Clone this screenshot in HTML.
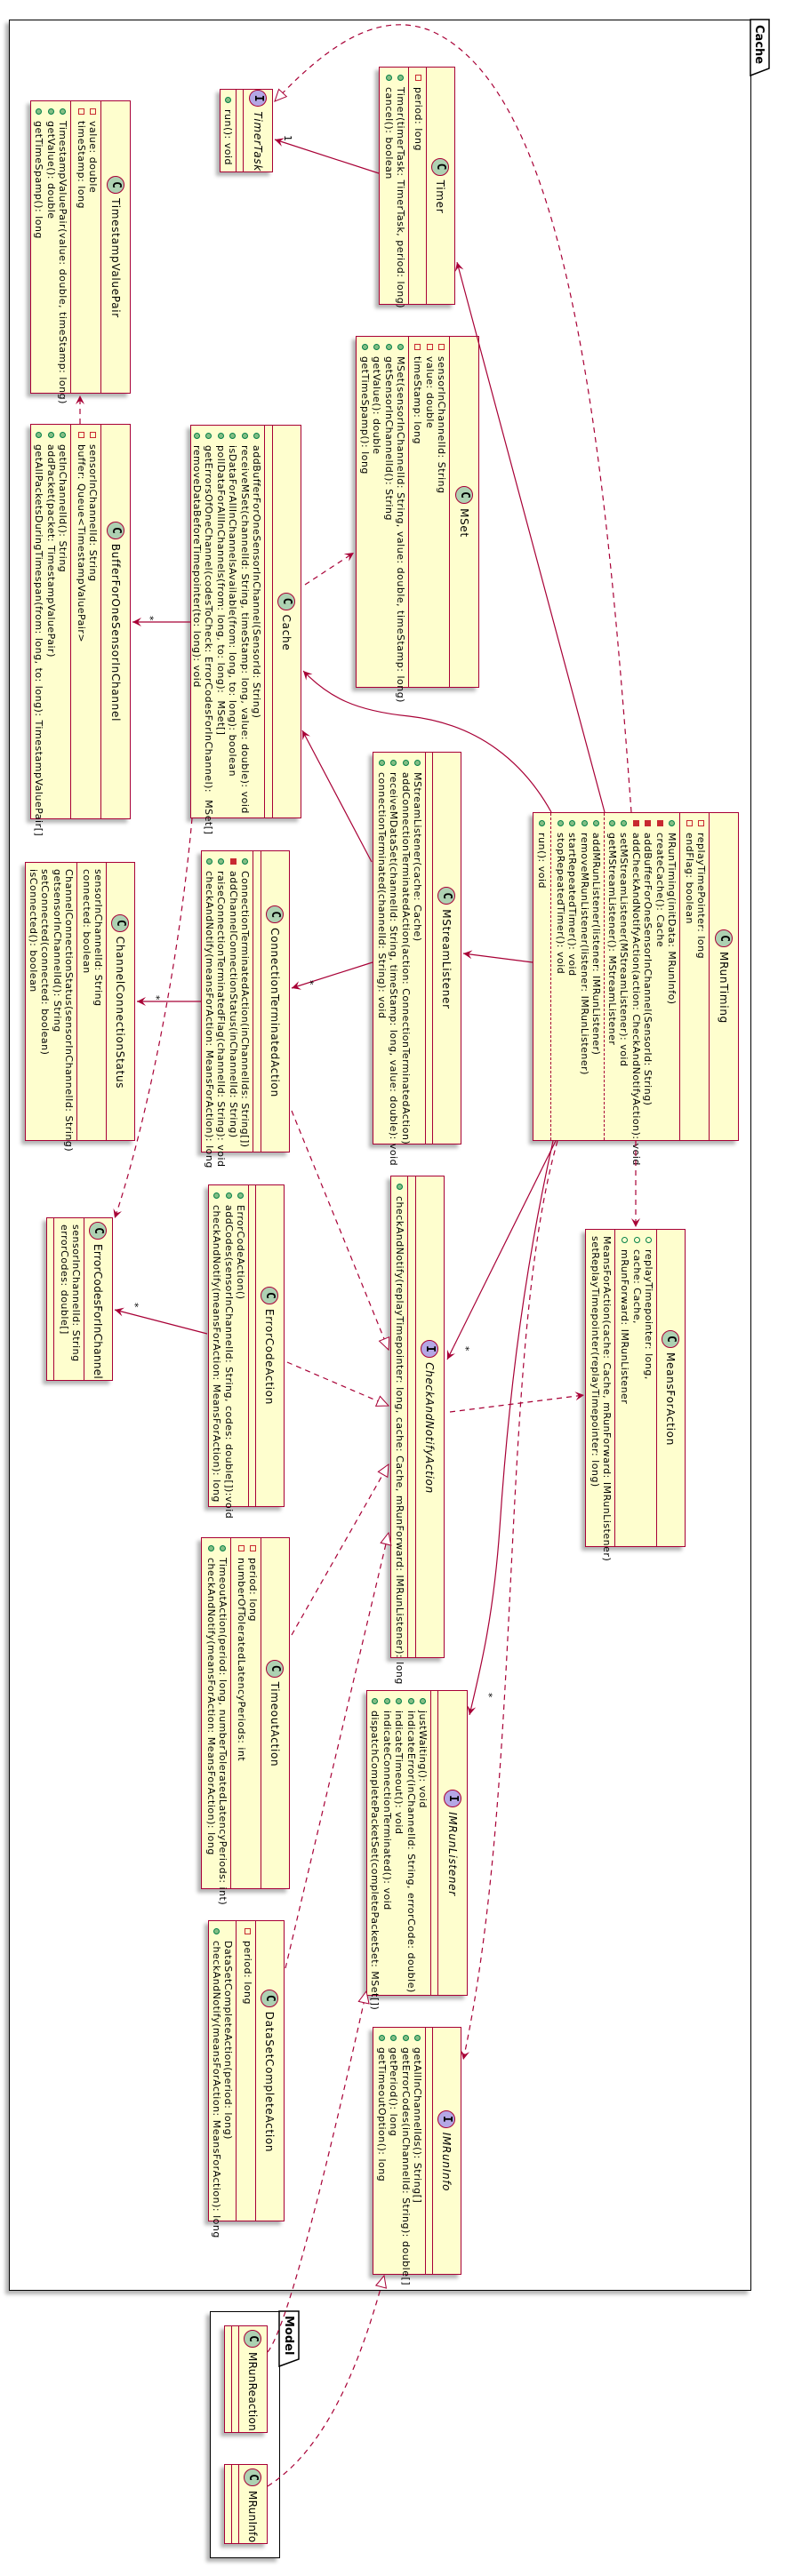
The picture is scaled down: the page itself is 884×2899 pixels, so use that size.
<!DOCTYPE html>
<html><head><meta charset="utf-8">
<style>
html,body{margin:0;padding:0;background:#fff;}
body{width:884px;height:2899px;position:relative;overflow:hidden;font-family:"DejaVu Sans","Liberation Sans",sans-serif;}
.fr{position:absolute;border:1.5px solid #000;box-sizing:border-box;box-shadow:-4px 4px 4px rgba(0,0,0,.3);background:#fff}
.b{position:absolute;transform:rotate(90deg);transform-origin:0 0;background:#FEFECE;border:1.5px solid #A80036;box-sizing:border-box;display:flex;flex-direction:column;box-shadow:4px 4px 4px rgba(0,0,0,.3);color:#000}
.h{display:flex;align-items:center;justify-content:center;border-bottom:1.5px solid #A80036;box-sizing:border-box;flex:none;font-size:12px;letter-spacing:0.7px;white-space:nowrap}
.h.l{justify-content:flex-start;padding-left:6px}
.f{border-bottom:1.5px solid #A80036;box-sizing:border-box;flex:none;padding-top:2px;overflow:visible}
.m{flex:1;padding-top:2px;overflow:visible}
.c{display:inline-block;width:20px;height:20px;border-radius:50%;background:#ADD1B2;border:1px solid #A80036;box-sizing:border-box;text-align:center;line-height:18px;font-weight:bold;font-size:13px;letter-spacing:0;margin-right:5px;font-family:"DejaVu Sans Mono","Liberation Mono",monospace}
.c.i{background:#B4A7E5}
.ln{position:relative;height:13.4px;line-height:13.4px;padding-left:22px;white-space:nowrap;font-size:11px;letter-spacing:0.5px}
.ln.n{padding-left:7px}
.ic{position:absolute;left:8px;top:3px;width:7px;height:7px;box-sizing:border-box}
.g{border-radius:50%;background:#84BE84;border:1px solid #038048}
.go{border-radius:50%;border:1px solid #038048}
.r{border:1px solid #C82930}
.rf{background:#C82930;border:1px solid #C82930}
.it{font-style:italic}
.sep{border-bottom:1px dashed #A80036;box-sizing:border-box;padding-top:2px}
svg{position:absolute;left:0;top:0}
</style></head><body>

<div class="fr" style="left:10px;top:22px;width:835px;height:2556px"></div>
<div class="fr" style="left:236px;top:2601px;width:79px;height:278px"></div>

<svg width="884" height="2899" style="z-index:0">
<polygon points="844,22 865,22 865,77 844,85" fill="#fff" stroke="#000" stroke-width="1.5"/>
<text x="850" y="28" transform="rotate(90 850 28)" font-family="DejaVu Sans,Liberation Sans,sans-serif" font-size="13" font-weight="bold">Cache</text>
<polygon points="314,2601 336,2601 336,2655 314,2663" fill="#fff" stroke="#000" stroke-width="1.5"/>
<text x="321" y="2606" transform="rotate(90 321 2606)" font-family="DejaVu Sans,Liberation Sans,sans-serif" font-size="13" font-weight="bold">Model</text>
</svg>

<div class="b" style="left:307px;top:100px;width:94px;height:60px">
<div class="h" style="height:33px"><span class="c i">I</span><span class="it">TimerTask</span></div>
<div class="f" style="height:8px"></div>
<div class="m"><div class="ln"><span class="ic g"></span>run(): void</div></div>
</div>

<div class="b" style="left:512px;top:75px;width:268px;height:86px">
<div class="h" style="height:32px"><span class="c">C</span>Timer</div>
<div class="f" style="height:20px"><div class="ln"><span class="ic r"></span>period: long</div></div>
<div class="m"><div class="ln"><span class="ic g"></span>Timer(timerTask: TimerTask, period: long)</div><div class="ln"><span class="ic g"></span>cancel(): boolean</div></div>
</div>

<div class="b" style="left:147px;top:113px;width:330px;height:113px">
<div class="h" style="height:33px"><span class="c">C</span>TimestampValuePair</div>
<div class="f" style="height:34px"><div class="ln"><span class="ic r"></span>value: double</div><div class="ln"><span class="ic r"></span>timeStamp: long</div></div>
<div class="m"><div class="ln"><span class="ic g"></span>TimestampValuePair(value: double, timeStamp: long)</div><div class="ln"><span class="ic g"></span>getValue(): double</div><div class="ln"><span class="ic g"></span>getTimeSpamp(): long</div></div>
</div>

<div class="b" style="left:539px;top:378px;width:396px;height:139px">
<div class="h" style="height:33px"><span class="c">C</span>MSet</div>
<div class="f" style="height:46px"><div class="ln"><span class="ic r"></span>sensorInChannelId: String</div><div class="ln"><span class="ic r"></span>value: double</div><div class="ln"><span class="ic r"></span>timeStamp: long</div></div>
<div class="m"><div class="ln"><span class="ic g"></span>MSet(sensorInChannelId: String, value: double, timeStamp: long)</div><div class="ln"><span class="ic g"></span>getSensorInChannelId(): String</div><div class="ln"><span class="ic g"></span>getValue(): double</div><div class="ln"><span class="ic g"></span>getTimeSpamp(): long</div></div>
</div>

<div class="b" style="left:147px;top:477px;width:445px;height:113px">
<div class="h" style="height:33px"><span class="c">C</span>BufferForOneSensorInChannel</div>
<div class="f" style="height:34px"><div class="ln"><span class="ic r"></span>sensorInChannelId: String</div><div class="ln"><span class="ic r"></span>buffer: Queue&lt;TimestampValuePair&gt;</div></div>
<div class="m"><div class="ln"><span class="ic g"></span>getInChannelId(): String</div><div class="ln"><span class="ic g"></span>addPacket(packet: TimestampValuePair)</div><div class="ln"><span class="ic g"></span>getAllPacketsDuringTimespan(from: long, to: long): TimestampValuePair[]</div></div>
</div>

<div class="b" style="left:339px;top:478px;width:443px;height:125px">
<div class="h" style="height:32px"><span class="c">C</span>Cache</div>
<div class="f" style="height:9px"></div>
<div class="m"><div class="ln"><span class="ic g"></span>addBufferForOneSensorInChannel(SensorId: String)</div><div class="ln"><span class="ic g"></span>receiveMSet(channelId: String, timeStamp: long, value: double): void</div><div class="ln"><span class="ic g"></span>isDataForAllInChannelsAvailable(from: long, to: long): boolean</div><div class="ln"><span class="ic g"></span>pollDataForAllInChannels(from: long, to: long):&nbsp; MSet[]</div><div class="ln"><span class="ic g"></span>getErrorsOfOneChannel(codesToCheck: ErrorCodesForInChannel):&nbsp; MSet[]</div><div class="ln"><span class="ic g"></span>removeDataBeforeTimepointer(to: long): void</div></div>
</div>

<div class="b" style="left:519px;top:846px;width:442px;height:100px">
<div class="h" style="height:32px"><span class="c">C</span>MStreamListener</div>
<div class="f" style="height:8px"></div>
<div class="m"><div class="ln"><span class="ic g"></span>MStreamListener(cache: Cache)</div><div class="ln"><span class="ic g"></span>addConnectionTerminatedAction(action: ConnectionTerminatedAction)</div><div class="ln"><span class="ic g"></span>receiveMDataSet(channelId: String, timeStamp: long, value: double): void</div><div class="ln"><span class="ic g"></span>connectionTerminated(channelId: String): void</div></div>
</div>

<div class="b" style="left:831px;top:914px;width:370px;height:232px">
<div class="h" style="height:33px"><span class="c">C</span>MRunTiming</div>
<div class="f" style="height:33px"><div class="ln"><span class="ic r"></span>replayTimePointer: long</div><div class="ln"><span class="ic r"></span>endFlag: boolean</div></div>
<div class="m" style="padding-top:0">
<div class="sep" style="height:85px"><div class="ln"><span class="ic g"></span>MRunTiming(initData: MRunInfo)</div><div class="ln"><span class="ic rf"></span>createCache(): Cache</div><div class="ln"><span class="ic rf"></span>addBufferForOneSensorInChannel(SensorId: String)</div><div class="ln"><span class="ic rf"></span>addCheckAndNotifyAction(action: CheckAndNotifyAction): void</div><div class="ln"><span class="ic g"></span>setMStreamListener(MStreamListener): void</div><div class="ln"><span class="ic g"></span>getMStreamListener(): MStreamListener</div></div>
<div class="sep" style="height:60px"><div class="ln"><span class="ic g"></span>addMRunListener(listener: IMRunListener)</div><div class="ln"><span class="ic g"></span>removeMRunListener(listener: IMRunListener)</div><div class="ln"><span class="ic g"></span>startRepeatedTimer(): void</div><div class="ln"><span class="ic g"></span>stopRepeatedTimer(): void</div></div>
<div style="padding-top:3px"><div class="ln"><span class="ic g"></span>run(): void</div></div>
</div>
</div>

<div class="b" style="left:326px;top:957px;width:340px;height:100px">
<div class="h" style="height:32px"><span class="c">C</span>ConnectionTerminatedAction</div>
<div class="f" style="height:9px"></div>
<div class="m"><div class="ln"><span class="ic g"></span>ConnectionTerminatedAction(inChannelIds: String[])</div><div class="ln"><span class="ic rf"></span>addChannelConnectionStatus(inChannelId: String)</div><div class="ln"><span class="ic g"></span>raiseConnectionTerminatedFlag(channelId: String): void</div><div class="ln"><span class="ic g"></span>checkAndNotify(meansForAction: MeansForAction): long</div></div>
</div>

<div class="b" style="left:152px;top:970px;width:314px;height:124px">
<div class="h" style="height:32px"><span class="c">C</span>ChannelConnectionStatus</div>
<div class="f" style="height:33px"><div class="ln n">sensorInChannelId: String</div><div class="ln n">connected: boolean</div></div>
<div class="m"><div class="ln n">ChannelConnectionStatus(sensorInChannelId: String)</div><div class="ln n">getsensorInChannelId(): String</div><div class="ln n">setConnected(connected: boolean)</div><div class="ln n">isConnected(): boolean</div></div>
</div>

<div class="b" style="left:127px;top:1370px;width:184px;height:75px">
<div class="h l" style="height:32px;padding-left:4px;letter-spacing:0.3px"><span class="c">C</span>ErrorCodesForInChannel</div>
<div class="f" style="height:34px"><div class="ln n">sensorInChannelId: String</div><div class="ln n">errorCodes: double[]</div></div>
<div class="m"></div>
</div>

<div class="b" style="left:320px;top:1333px;width:363px;height:86px">
<div class="h" style="height:32px"><span class="c">C</span>ErrorCodeAction</div>
<div class="f" style="height:8px"></div>
<div class="m"><div class="ln"><span class="ic g"></span>ErrorCodeAction()</div><div class="ln"><span class="ic g"></span>addCodes(sensorInChannelId: String, codes: double[]):void</div><div class="ln"><span class="ic g"></span>checkAndNotify(meansForAction: MeansForAction): long</div></div>
</div>

<div class="b" style="left:500px;top:1323px;width:543px;height:61px">
<div class="h" style="height:32px"><span class="c i">I</span><span class="it">CheckAndNotifyAction</span></div>
<div class="f" style="height:9px"></div>
<div class="m"><div class="ln"><span class="ic g"></span>checkAndNotify(replayTimepointer: long, cache: Cache, mRunForward: IMRunListener): long</div></div>
</div>

<div class="b" style="left:771px;top:1383px;width:358px;height:113px">
<div class="h" style="height:32px"><span class="c">C</span>MeansForAction</div>
<div class="f" style="height:47px"><div class="ln"><span class="ic go"></span>replayTimepointer: long,</div><div class="ln"><span class="ic go"></span>cache: Cache,</div><div class="ln"><span class="ic go"></span>mRunForward: IMRunListener</div></div>
<div class="m"><div class="ln n">MeansForAction(cache: Cache, mRunForward: IMRunListener)</div><div class="ln n">setReplayTimepointer(replayTimepointer: long)</div></div>
</div>

<div class="b" style="left:326px;top:1730px;width:396px;height:100px">
<div class="h" style="height:32px"><span class="c">C</span>TimeoutAction</div>
<div class="f" style="height:34px"><div class="ln"><span class="ic r"></span>period: long</div><div class="ln"><span class="ic r"></span>numberOfToleratedLatencyPeriods: int</div></div>
<div class="m"><div class="ln"><span class="ic g"></span>TimeoutAction(period: long, numberToleratedLatencyPeriods: int)</div><div class="ln"><span class="ic g"></span>checkAndNotify(meansForAction: MeansForAction): long</div></div>
</div>

<div class="b" style="left:526px;top:1902px;width:344px;height:114px">
<div class="h" style="height:33px"><span class="c i">I</span><span class="it">IMRunListener</span></div>
<div class="f" style="height:8px"></div>
<div class="m"><div class="ln"><span class="ic g"></span>justWaiting(): void</div><div class="ln"><span class="ic g"></span>indicateError(inChannelId: String, errorCode: double)</div><div class="ln"><span class="ic g"></span>indicateTimeout(): void</div><div class="ln"><span class="ic g"></span>indicateConnectionTerminated(): void</div><div class="ln"><span class="ic g"></span>dispatchCompletePacketSet(completePacketSet: MSet[])</div></div>
</div>

<div class="b" style="left:320px;top:2161px;width:339px;height:86px">
<div class="h" style="height:32px"><span class="c">C</span>DataSetCompleteAction</div>
<div class="f" style="height:22px"><div class="ln"><span class="ic r"></span>period: long</div></div>
<div class="m"><div class="ln">DataSetCompleteAction(period: long)</div><div class="ln"><span class="ic g"></span>checkAndNotify(meansForAction: MeansForAction): long</div></div>
</div>

<div class="b" style="left:519px;top:2281px;width:279px;height:100px">
<div class="h" style="height:32px"><span class="c i">I</span><span class="it">IMRunInfo</span></div>
<div class="f" style="height:8px"></div>
<div class="m"><div class="ln"><span class="ic g"></span>getAllInChannelIds(): String[]</div><div class="ln"><span class="ic g"></span>getErrorCodes(inChannelId: String): double[]</div><div class="ln"><span class="ic g"></span>getPeriod(): long</div><div class="ln"><span class="ic g"></span>getTimeoutOption(): long</div></div>
</div>

<div class="b" style="left:301px;top:2617px;width:121px;height:49px">
<div class="h l" style="height:32px;padding-left:4px;letter-spacing:0.3px"><span class="c">C</span>MRunReaction</div>
<div class="f" style="height:8px"></div>
<div class="m"></div>
</div>

<div class="b" style="left:301px;top:2773px;width:90px;height:49px">
<div class="h l" style="height:32px;padding-left:4px;letter-spacing:0.3px"><span class="c">C</span>MRunInfo</div>
<div class="f" style="height:8px"></div>
<div class="m"></div>
</div>

<svg width="884" height="2899" style="z-index:5;pointer-events:none">
<defs>
<marker id="a" markerUnits="userSpaceOnUse" markerWidth="12" markerHeight="10" refX="10" refY="5" orient="auto"><path d="M0,0 L10,5 L0,10 L4,5 z" fill="#A80036"/></marker>
<marker id="t" markerUnits="userSpaceOnUse" markerWidth="16" markerHeight="14" refX="14" refY="7" orient="auto"><path d="M1,1 L14,7 L1,13 z" fill="#fff" stroke="#A80036" stroke-width="1"/></marker>
</defs>
<g fill="none" stroke="#A80036" stroke-width="1.2">
<path d="M426,195 L309,157" marker-end="url(#a)"/>
<path d="M680,914 L514,295" marker-end="url(#a)"/>
<path d="M620,914 C590,860 540,815 460,806 C400,800 370,785 341,755" marker-end="url(#a)"/>
<path d="M599,1083 L521,1073" marker-end="url(#a)"/>
<path d="M418,970 L340,822" marker-end="url(#a)"/>
<path d="M419,1083 L328,1112" marker-end="url(#a)"/>
<path d="M214,700 L149,700" marker-end="url(#a)"/>
<path d="M226,1127 L154,1127" marker-end="url(#a)"/>
<path d="M233,1501 L129,1474" marker-end="url(#a)"/>
<path d="M625,1284 L503,1530" marker-end="url(#a)"/>
<path d="M622,1284 C585,1450 570,1600 562,1720 C555,1820 540,1880 528,1930" marker-end="url(#a)"/>
</g>
<g fill="none" stroke="#A80036" stroke-width="1.2" stroke-dasharray="6,5">
<path d="M710,914 C680,500 640,100 483,34 C420,10 360,60 309,114" marker-end="url(#t)"/>
<path d="M90,477 L90,445" marker-end="url(#a)"/>
<path d="M343,658 L398,622" marker-end="url(#a)"/>
<path d="M216,921 C200,1100 160,1280 129,1371" marker-end="url(#a)"/>
<path d="M328,1250 L437,1519" marker-end="url(#t)"/>
<path d="M323,1533 L437,1582" marker-end="url(#t)"/>
<path d="M328,1840 L437,1648" marker-end="url(#t)"/>
<path d="M321,2215 L437,1725" marker-end="url(#t)"/>
<path d="M301,2647 Q330,2610 412,2241" marker-end="url(#t)"/>
<path d="M301,2798 C360,2760 400,2680 432,2561" marker-end="url(#t)"/>
<path d="M627,1284 C560,1520 590,2000 521,2318" marker-end="url(#a)"/>
<path d="M506,1589 L657,1570" marker-end="url(#a)"/>
<path d="M715,1284 L715,1381" marker-end="url(#a)"/>
</g>
<g font-family="DejaVu Sans,Liberation Sans,sans-serif" font-size="11" fill="#000">
<text x="320" y="152" transform="rotate(90 320 152)">1</text>
<text x="165" y="693" transform="rotate(90 165 693)">*</text>
<text x="345" y="1103" transform="rotate(90 345 1103)">*</text>
<text x="172" y="1120" transform="rotate(90 172 1120)">*</text>
<text x="148" y="1466" transform="rotate(90 148 1466)">*</text>
<text x="520" y="1515" transform="rotate(90 520 1515)">*</text>
<text x="546" y="1905" transform="rotate(90 546 1905)">*</text>
</g>
</svg>
</body></html>
